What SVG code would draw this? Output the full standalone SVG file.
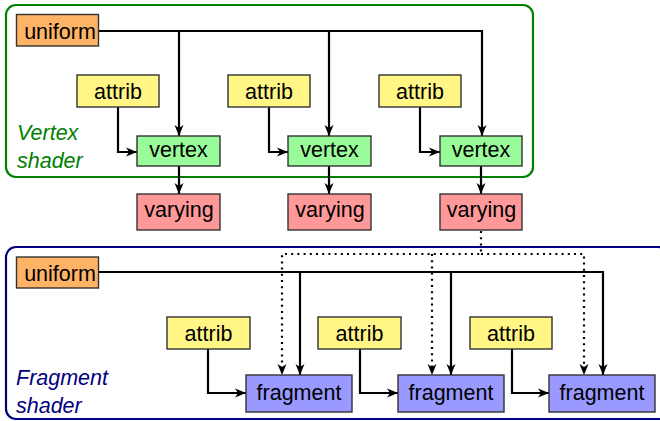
<svg xmlns="http://www.w3.org/2000/svg" width="660" height="421" viewBox="0 0 660 421">
  <defs>
    <style>
      .box { stroke: #333333; stroke-width: 1.4; }
      .uniform { fill: #FFB366; }
      .attrib { fill: #FFF685; }
      .vertex { fill: #99FB99; }
      .varying { fill: #FF9999; }
      .fragment { fill: #9999FF; }
      .label { font-family: "Liberation Sans", Arial, sans-serif; font-size: 21.5px; fill: #000000; text-anchor: middle; }
      .stage { font-family: "Liberation Sans", Arial, sans-serif; font-size: 21.5px; font-style: italic; }
      .wire { fill: none; stroke: #000000; stroke-width: 2.2; marker-end: url(#tip); }
      .dots { fill: none; stroke: #000000; stroke-width: 2.2; stroke-dasharray: 2 4.2; }
    </style>
    <marker id="tip" markerUnits="userSpaceOnUse" markerWidth="12" markerHeight="10" refX="11" refY="5" orient="auto">
      <path d="M0,0.5 L11,5 L0,9.5 L3,5 z" fill="#000000"/>
    </marker>
  </defs>

  <!-- shader stage frames -->
  <rect x="6" y="5" width="527" height="172" rx="10" ry="10" fill="none" stroke="#008000" stroke-width="2.2"/>
  <text class="stage" x="17" y="140" fill="#008000">Vertex</text>
  <text class="stage" x="17" y="168" fill="#008000">shader</text>

  <rect x="6" y="247" width="662" height="172" rx="10" ry="10" fill="none" stroke="#000080" stroke-width="2.2"/>
  <text class="stage" x="16" y="385" fill="#000080">Fragment</text>
  <text class="stage" x="16" y="413" fill="#000080">shader</text>

  <!-- connectors -->
  <g id="connectors">
    <path class="wire" d="M99,31 H482 V136"/>
    <path class="wire" d="M179,31 V136"/>
    <path class="wire" d="M329,31 V136"/>
    <path class="wire" d="M118,107 V152 H137"/>
    <path class="wire" d="M269,107 V152 H288"/>
    <path class="wire" d="M420,107 V152 H440"/>
    <path class="wire" d="M179,166 V194"/>
    <path class="wire" d="M329,166 V194"/>
    <path class="wire" d="M481,166 V194"/>

    <path class="wire" d="M99,272 H603 V375"/>
    <path class="wire" d="M300,272 V375"/>
    <path class="wire" d="M451,272 V375"/>
    <path class="wire" d="M208,349 V393 H246"/>
    <path class="wire" d="M360,349 V393 H398"/>
    <path class="wire" d="M512,349 V393 H549"/>

    <path class="dots" d="M481,231 V254 H282 V367"/>
    <path class="dots" d="M481,254 H584 V367"/>
    <path class="dots" d="M432,254 V367"/>
    <path d="M282,365 V375" fill="none" stroke="none" marker-end="url(#tip)"/>
    <path d="M432,365 V375" fill="none" stroke="none" marker-end="url(#tip)"/>
    <path d="M584,365 V375" fill="none" stroke="none" marker-end="url(#tip)"/>
  </g>

  <!-- vertex stage -->
  <g id="uniform-v">
    <rect class="box uniform" x="16.5" y="14.5" width="82" height="31.5"/>
    <text class="label" x="60" y="38.7">uniform</text>
  </g>
  <g id="attrib-v1">
    <rect class="box attrib" x="77" y="75" width="82" height="32"/>
    <text class="label" x="118" y="99">attrib</text>
  </g>
  <g id="attrib-v2">
    <rect class="box attrib" x="228" y="75" width="82" height="32"/>
    <text class="label" x="269" y="99">attrib</text>
  </g>
  <g id="attrib-v3">
    <rect class="box attrib" x="379" y="75" width="82" height="32"/>
    <text class="label" x="420" y="99">attrib</text>
  </g>
  <g id="vertex1">
    <rect class="box vertex" x="137" y="136" width="83" height="30"/>
    <text class="label" x="178.5" y="157">vertex</text>
  </g>
  <g id="vertex2">
    <rect class="box vertex" x="288" y="136" width="83" height="30"/>
    <text class="label" x="329.5" y="157">vertex</text>
  </g>
  <g id="vertex3">
    <rect class="box vertex" x="440" y="136" width="82" height="30"/>
    <text class="label" x="481" y="157">vertex</text>
  </g>
  <g id="varying1">
    <rect class="box varying" x="137" y="194" width="83" height="36"/>
    <text class="label" x="179" y="217">varying</text>
  </g>
  <g id="varying2">
    <rect class="box varying" x="288" y="194" width="83" height="36"/>
    <text class="label" x="330" y="217">varying</text>
  </g>
  <g id="varying3">
    <rect class="box varying" x="440" y="194" width="82" height="36"/>
    <text class="label" x="481.5" y="217">varying</text>
  </g>

  <!-- fragment stage -->
  <g id="uniform-f">
    <rect class="box uniform" x="16.5" y="257" width="82" height="31"/>
    <text class="label" x="60" y="281">uniform</text>
  </g>
  <g id="attrib-f1">
    <rect class="box attrib" x="167" y="317" width="83" height="32"/>
    <text class="label" x="208.5" y="341">attrib</text>
  </g>
  <g id="attrib-f2">
    <rect class="box attrib" x="318" y="317" width="83" height="32"/>
    <text class="label" x="359.5" y="341">attrib</text>
  </g>
  <g id="attrib-f3">
    <rect class="box attrib" x="470" y="317" width="82" height="32"/>
    <text class="label" x="511" y="341">attrib</text>
  </g>
  <g id="fragment1">
    <rect class="box fragment" x="246" y="375" width="106" height="37"/>
    <text class="label" x="299" y="400">fragment</text>
  </g>
  <g id="fragment2">
    <rect class="box fragment" x="398" y="375" width="106" height="37"/>
    <text class="label" x="451" y="400">fragment</text>
  </g>
  <g id="fragment3">
    <rect class="box fragment" x="549" y="375" width="106" height="37"/>
    <text class="label" x="602" y="400">fragment</text>
  </g>
</svg>
